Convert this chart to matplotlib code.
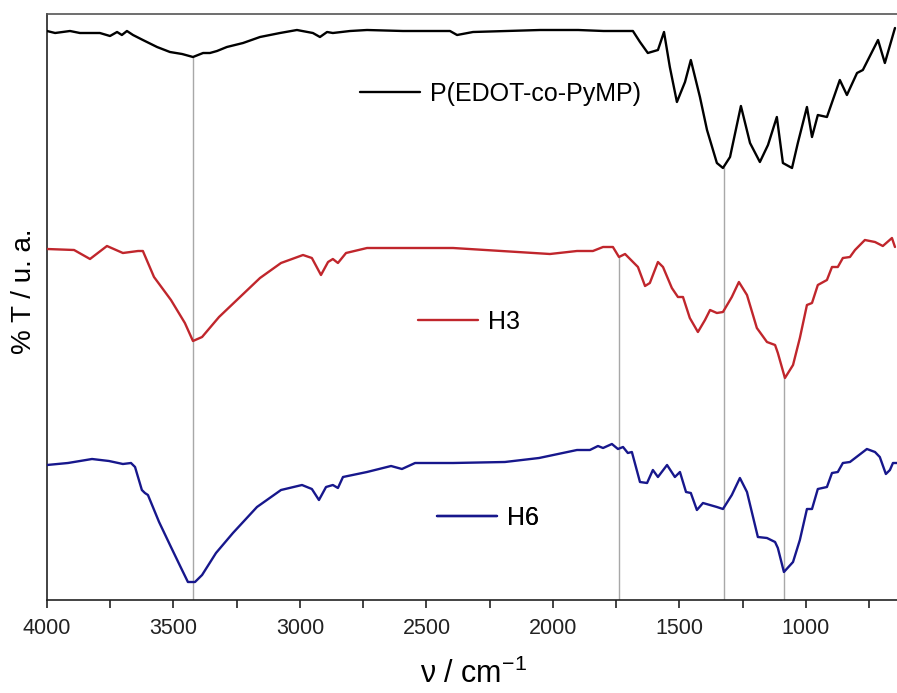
import numpy as np
import matplotlib.pyplot as plt

plt.rcParams['font.family'] = ['Liberation Sans', 'DejaVu Sans']
plt.rcParams['mathtext.fontset'] = 'custom'
plt.rcParams['mathtext.rm'] = 'Liberation Sans'

# FTIR spectra (wavenumber in cm-1, transmittance in arbitrary units, offset per sample)
pedot_wn = [4000, 3968, 3909, 3870, 3791, 3751, 3723, 3704, 3684, 3660, 3621, 3565, 3514, 3466, 3423,
            3383, 3356, 3328, 3289, 3225, 3158, 3079, 3012, 2949, 2921, 2893, 2870, 2802, 2735, 2593,
            2407, 2379, 2316, 2051, 1900, 1800, 1684, 1656, 1625, 1585, 1561, 1538, 1510, 1478, 1455,
            1419, 1391, 1352, 1328, 1300, 1257, 1221, 1182, 1150, 1115, 1091, 1055, 1032, 996, 976,
            953, 917, 866, 838, 798, 775, 715, 688, 648]
pedot_t = [569, 567, 569, 567, 567, 564, 568, 565, 569, 565, 560, 553, 548, 546, 543,
           547, 547, 549, 553, 557, 563, 567, 570, 567, 563, 568, 567, 569, 570, 569,
           569, 565, 568, 570, 570, 569, 569, 558, 547, 550, 568, 533, 498, 518, 540,
           503, 470, 437, 432, 443, 494, 457, 438, 455, 483, 437, 432, 457, 493, 463,
           485, 483, 520, 505, 527, 530, 560, 537, 572]

h3_wn = [4000, 3893, 3830, 3763, 3700, 3640, 3621, 3577, 3510, 3455, 3423, 3387, 3320, 3237, 3158,
         3075, 2988, 2953, 2917, 2889, 2870, 2850, 2818, 2735, 2395, 2012, 1905, 1842, 1802, 1763,
         1739, 1715, 1664, 1636, 1617, 1585, 1565, 1530, 1506, 1486, 1459, 1427, 1399, 1379, 1352,
         1328, 1293, 1265, 1233, 1194, 1154, 1122, 1111, 1083, 1051, 1024, 996, 976, 953, 917,
         897, 874, 854, 826, 806, 767, 727, 696, 660, 648]
h3_t = [351, 350, 341, 354, 347, 349, 349, 323, 300, 277, 259, 263, 283, 303, 322,
        337, 345, 342, 325, 338, 341, 337, 347, 352, 352, 346, 349, 349, 353, 353,
        343, 346, 333, 314, 317, 338, 333, 312, 303, 303, 282, 268, 280, 290, 287,
        288, 303, 318, 305, 272, 258, 255, 247, 222, 235, 262, 295, 297, 315, 320,
        333, 333, 342, 343, 350, 360, 358, 354, 362, 353]

h6_wn = [4000, 3917, 3822, 3755, 3700, 3668, 3652, 3625, 3613, 3601, 3557, 3510, 3470, 3443, 3415,
         3387, 3332, 3265, 3170, 3075, 2992, 2953, 2925, 2897, 2870, 2850, 2830, 2735, 2640, 2597,
         2545, 2395, 2190, 2055, 1905, 1854, 1822, 1802, 1767, 1743, 1723, 1704, 1688, 1656, 1628,
         1605, 1585, 1549, 1518, 1498, 1474, 1455, 1431, 1407, 1352, 1328, 1293, 1261, 1233, 1190,
         1154, 1122, 1111, 1087, 1051, 1024, 996, 976, 953, 917, 897, 874, 854, 826, 759,
         727, 708, 684, 668, 656, 640]
h6_t = [135, 137, 141, 139, 136, 137, 133, 110, 107, 105, 78, 53, 32, 18, 18,
        25, 47, 67, 93, 110, 115, 111, 100, 113, 115, 112, 123, 128, 134, 131,
        137, 137, 138, 142, 150, 150, 154, 152, 156, 151, 153, 147, 148, 118, 117,
        130, 123, 135, 123, 128, 108, 107, 90, 97, 93, 91, 105, 122, 108, 63,
        62, 58, 52, 28, 38, 60, 91, 91, 111, 113, 127, 128, 137, 138, 151,
        148, 143, 126, 130, 137, 137]

# marked bands and the spectrum each guide line starts from
band_wn = [3424, 1740, 1325, 1085]
band_src = ['pedot', 'h3', 'pedot', 'h3']

series = {
    'pedot': (pedot_wn, pedot_t, 'black', 'P(EDOT-co-PyMP)'),
    'h3': (h3_wn, h3_t, '#c0262c', 'H3'),
    'h6': (h6_wn, h6_t, '#17178c', 'H6'),
}

fig = plt.figure(figsize=(8.97, 6.93), dpi=100)
ax = fig.add_axes([47/897, 93/693, 850/897, 586/693])

# guide lines
for wn, src in zip(band_wn, band_src):
    xs, ys = series[src][0], series[src][1]
    top = np.interp(wn, xs[::-1], ys[::-1])
    ax.vlines(wn, 0, top, color='#a8a8a8', lw=1.0, zorder=1)

lines = {}
for key, (xs, ys, col, lab) in series.items():
    lines[key], = ax.plot(xs, ys, color=col, lw=1.7, zorder=3, label=lab,
                          solid_joinstyle='round', solid_capstyle='round')

ax.set_xlim(4000, 640)
ax.set_ylim(0, 586)
ax.set_xticks([4000, 3500, 3000, 2500, 2000, 1500, 1000])
ax.set_xticks(np.arange(750, 4000, 500), minor=True)
ax.set_yticks([])
ax.tick_params(axis='x', which='both', direction='out', length=6, width=1.2,
               labelsize=15.5, pad=7, colors='#222222')
for s in ['left', 'bottom']:
    ax.spines[s].set_linewidth(1.2)
    ax.spines[s].set_color('#222222')
ax.spines['top'].set_linewidth(1.2)
ax.spines['top'].set_color('#555555')
ax.spines['right'].set_visible(False)

# one legend entry next to each spectrum
leg_pos = {'pedot': (0.368, 0.8635), 'h3': (0.4365, 0.4744), 'h6': (0.4588, 0.1399)}
for key, pos in leg_pos.items():
    leg = ax.legend([lines[key]], [series[key][3]], loc='center left', bbox_to_anchor=pos,
                    frameon=False, fontsize=18, handlelength=2.4, handletextpad=0.4,
                    borderpad=0, borderaxespad=0)
    ax.add_artist(leg)

fig.text(24/897, 1 - 291/693, '% T / u. a.', rotation=90, ha='center', va='center', fontsize=20)
fig.text(474/897, 1 - 683/693, r'ν / cm$^{\mathregular{-1}}$', ha='center', va='baseline', fontsize=22)

fig.savefig('out.png', dpi=100)
